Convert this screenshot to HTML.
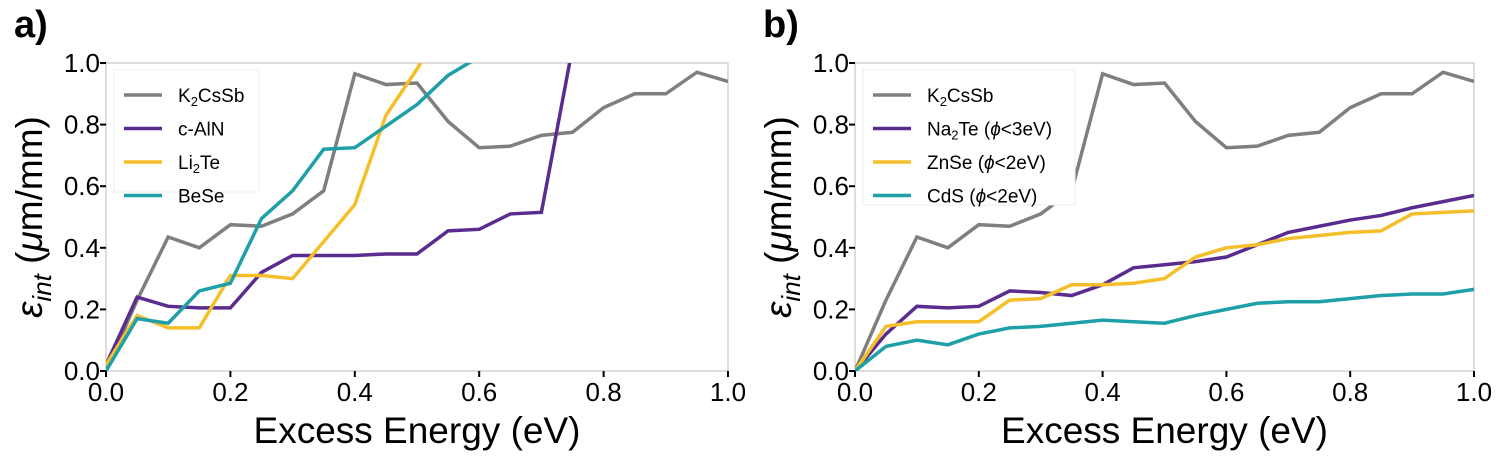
<!DOCTYPE html>
<html><head><meta charset="utf-8"><style>
body{margin:0;background:#fff;}
svg text{font-family:"Liberation Sans",sans-serif;}
</style></head><body>
<svg id="s" width="1500" height="458" xmlns="http://www.w3.org/2000/svg"></svg>
<script>
const xs=[0,0.05,0.1,0.15,0.2,0.25,0.3,0.35,0.4,0.45,0.5,0.55,0.6,0.65,0.7,0.75,0.8,0.85,0.9,0.95,1.0];
const k2cssb=[0,0.23,0.435,0.40,0.475,0.47,0.51,0.585,0.965,0.93,0.935,0.81,0.725,0.73,0.765,0.775,0.855,0.90,0.90,0.97,0.94];
const calN=[0.02,0.24,0.21,0.205,0.205,0.32,0.375,0.375,0.375,0.38,0.38,0.455,0.46,0.51,0.515,1.05];
const li2te=[0.02,0.18,0.14,0.14,0.31,0.31,0.30,0.42,0.54,0.83,0.98,1.15];
const bese=[0,0.17,0.155,0.26,0.285,0.495,0.585,0.72,0.725,0.795,0.865,0.96,1.02];
const na2te=[0,0.12,0.21,0.205,0.21,0.26,0.255,0.245,0.28,0.335,0.345,0.355,0.37,0.41,0.45,0.47,0.49,0.505,0.53,0.55,0.57];
const znse=[0,0.145,0.16,0.16,0.16,0.23,0.235,0.28,0.28,0.285,0.30,0.37,0.40,0.41,0.43,0.44,0.45,0.455,0.51,0.515,0.52];
const cds=[0,0.08,0.10,0.085,0.12,0.14,0.145,0.155,0.165,0.16,0.155,0.18,0.20,0.22,0.225,0.225,0.235,0.245,0.25,0.25,0.265];
const ticks=[0,0.2,0.4,0.6,0.8,1.0];
const tickLabels=["0.0","0.2","0.4","0.6","0.8","1.0"];
const C={gray:"#7f7f7f",purple:"#5b2c8f",yellow:"#f4bf2a",teal:"#1fa0a8"};
const svg=document.getElementById('s');
const NS="http://www.w3.org/2000/svg";
function el(t,a,p){const e=document.createElementNS(NS,t);for(const k in a)e.setAttribute(k,a[k]);(p||svg).appendChild(e);return e;}
function panel(id,x0,x1,letter,series,legend){
  const y0=371,y1=63;
  const sx=v=>x0+(x1-x0)*v, sy=v=>y0-(y0-y1)*v;
  const g=el('g',{});
  
  
  const cp=el('clipPath',{id:'cp'+id},g);
  el('rect',{x:x0,y:y1,width:x1-x0,height:y0-y1},cp);
  const fr=el('rect',{x:x0,y:y1,width:x1-x0,height:y0-y1,fill:'none',stroke:'#bbb','stroke-width':1},g);
  
  
  ticks.forEach((t,i)=>{
    el('line',{x1:x0-6,x2:x0,y1:sy(t),y2:sy(t),stroke:'#000','stroke-width':2},g);
    const ty=el('text',{x:x0-6,y:sy(t)+9,'text-anchor':'end','font-size':26},g);ty.textContent=tickLabels[i];
    
    
    el('line',{x1:sx(t),x2:sx(t),y1:y0,y2:y0+6,stroke:'#000','stroke-width':2},g);
    const tx=el('text',{x:sx(t),y:y0+30,'text-anchor':'middle','font-size':26},g);tx.textContent=tickLabels[i];
    
    
  });
  series.forEach(s=>{
    const pts=s.v.map((v,i)=>sx(xs[i])+','+sy(v)).join(' ');
    const pl=el('polyline',{points:pts,fill:'none',stroke:s.c,'stroke-width':3.5,'clip-path':'url(#cp'+id+')'},g);
    
    
  });
  const lg=el('g',{},g);
  
  
  el('rect',{x:x0+8,y:70,width:legend.w,height:legend.h,fill:'#fff',stroke:'#eee'},lg);
  series.forEach((s,i)=>{
    const yy=95+i*33.5;
    el('line',{x1:x0+18,x2:x0+56,y1:yy,y2:yy,stroke:s.c,'stroke-width':3.5},lg);
    const t=el('text',{x:x0+72,y:yy+7,'font-size':19},lg);t.innerHTML=s.label;
    
    
  });
  const xl=el('text',{x:(x0+x1)/2,y:443,'text-anchor':'middle','font-size':37},g);xl.textContent='Excess Energy (eV)';
  
  
  const yl=el('text',{transform:`translate(${x0-64},${(y0+y1)/2}) rotate(-90)`,'text-anchor':'middle','font-size':37},g);
  yl.innerHTML='<tspan font-style="italic">ε</tspan><tspan font-style="italic" font-size="26" dy="9">int</tspan><tspan dy="-9"> (</tspan><tspan font-style="italic">μ</tspan><tspan>m/mm)</tspan>';
  
  
  const pl=el('text',{x:x0-92,y:37,'font-size':38,'font-weight':'bold'},g);pl.textContent=letter;
  
  
}
const sub=s=>`<tspan font-size="13" dy="4">${s}</tspan><tspan dy="-4">`;
panel('a',106,728,'a)',[
 {n:'k2cssb',v:k2cssb,c:C.gray,label:'K'+sub('2')+'CsSb</tspan>'},
 {n:'c-aln',v:calN,c:C.purple,label:'c-AlN'},
 {n:'li2te',v:li2te,c:C.yellow,label:'Li'+sub('2')+'Te</tspan>'},
 {n:'bese',v:bese,c:C.teal,label:'BeSe'}],{w:145,h:122});
panel('b',855,1474,'b)',[
 {n:'k2cssb',v:k2cssb,c:C.gray,label:'K'+sub('2')+'CsSb</tspan>'},
 {n:'na2te',v:na2te,c:C.purple,label:'Na'+sub('2')+'Te (<tspan font-style="italic">ϕ</tspan>&lt;3eV)</tspan>'},
 {n:'znse',v:znse,c:C.yellow,label:'ZnSe (<tspan font-style="italic">ϕ</tspan>&lt;2eV)'},
 {n:'cds',v:cds,c:C.teal,label:'CdS (<tspan font-style="italic">ϕ</tspan>&lt;2eV)'}],{w:212,h:135});
</script>
</body></html>
